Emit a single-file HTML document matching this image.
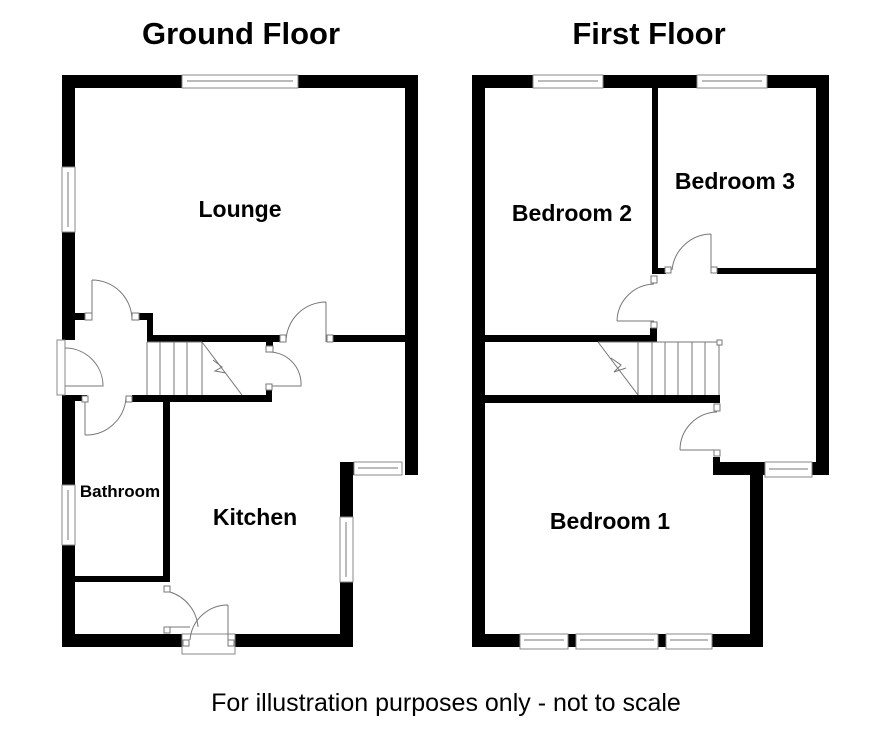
<!DOCTYPE html>
<html><head><style>
html,body{margin:0;padding:0;background:#fff;}
svg{display:block;}
text{font-family:"Liberation Sans",Arial,sans-serif;fill:#000;}
.b{font-weight:bold;}
.w{fill:#000;}
.win{fill:#fff;stroke:#888;stroke-width:1;}
.t{fill:none;stroke:#777;stroke-width:1;}
.j{fill:#fff;stroke:#777;stroke-width:1;}
</style></head><body>
<svg width="886" height="732" viewBox="0 0 886 732" xmlns="http://www.w3.org/2000/svg">
<text x="241" y="44" class="b" font-size="31" text-anchor="middle">Ground Floor</text>
<text x="649" y="44" class="b" font-size="31" text-anchor="middle">First Floor</text>
<text x="446" y="711" font-size="25" text-anchor="middle">For illustration purposes only - not to scale</text>

<!-- GROUND FLOOR walls -->
<g class="w">
<rect x="62" y="75" width="120" height="13"/>
<rect x="298" y="75" width="120" height="13"/>
<rect x="405" y="75" width="13" height="400"/>
<rect x="340" y="462" width="14" height="13"/>
<rect x="340" y="462" width="13" height="125"/>
<rect x="340" y="582" width="13" height="65"/>
<rect x="62" y="75" width="13" height="92"/>
<rect x="62" y="232" width="13" height="108"/>
<rect x="62" y="395" width="13" height="90"/>
<rect x="62" y="545" width="13" height="102"/>
<rect x="62" y="634" width="120" height="13"/>
<rect x="235" y="634" width="118" height="13"/>
<rect x="75" y="313" width="10" height="7"/>
<rect x="138" y="313" width="15" height="7"/>
<rect x="147" y="313" width="6" height="29"/>
<rect x="147" y="335" width="133" height="7"/>
<rect x="333" y="335" width="74" height="7"/>
<rect x="266" y="342" width="7" height="4"/>
<rect x="132" y="395" width="140" height="7"/>
<rect x="266" y="390" width="6" height="6"/>
<rect x="163" y="395" width="7" height="187"/>
<rect x="75" y="576" width="95" height="6"/>
<rect x="62" y="395" width="25" height="6"/>
</g>
<!-- ground windows -->
<rect x="182" y="75" width="116" height="13" class="win"/><line x1="187" y1="81" x2="293" y2="81" class="t"/>
<rect x="62" y="167" width="13" height="65" class="win"/><line x1="68" y1="172" x2="68" y2="227" class="t"/>
<rect x="62" y="485" width="13" height="60" class="win"/><line x1="68" y1="490" x2="68" y2="540" class="t"/>
<rect x="340" y="517" width="13" height="65" class="win"/><line x1="346" y1="522" x2="346" y2="577" class="t"/>
<rect x="354" y="462" width="48" height="13" class="win"/><line x1="358" y1="468" x2="398" y2="468" class="t"/>
<rect x="182" y="634" width="53" height="20" class="win"/>
<rect x="57" y="340" width="8" height="55" class="win"/>
<!-- ground doors -->
<path d="M92 280 L92 313 M92 280 A40 40 0 0 1 132 320" class="t"/>
<rect x="85" y="313" width="7" height="7" class="j"/><rect x="132" y="313" width="7" height="7" class="j"/>
<path d="M65 348 A38 38 0 0 1 103 386 L65 386" class="t"/>
<path d="M85 435 L85 400 M85 435 A40 40 0 0 0 126 398" class="t"/>
<rect x="126" y="396" width="6" height="6" class="j"/><rect x="82" y="396" width="6" height="6" class="j"/>
<path d="M326 302 L326 342 M326 302 A40 40 0 0 0 286 342" class="t"/>
<rect x="280" y="335" width="6" height="7" class="j"/><rect x="327" y="335" width="6" height="7" class="j"/>
<path d="M268 352 A32 32 0 0 1 301 386 L268 386" class="t"/>
<rect x="266" y="346" width="7" height="6" class="j"/><rect x="266" y="384" width="6" height="6" class="j"/>
<path d="M170 592 A40 40 0 0 1 198 627 M170 627 L190 627" class="t"/>
<rect x="164" y="586" width="6" height="6" class="j"/><rect x="164" y="627" width="6" height="6" class="j"/>
<path d="M228 605 L228 640 M228 605 A38 38 0 0 0 190 640" class="t"/>
<rect x="183" y="640" width="6" height="6" class="j"/><rect x="228" y="640" width="6" height="6" class="j"/>
<!-- ground stairs -->
<path d="M147 342 L202 342 M147 342 L147 395 M160 342 L160 395 M174 342 L174 395 M187 342 L187 395 M202 342 L202 395 M202 342 L242 395 M213 360 L222 367 L215 371 L226 373" class="t"/>

<!-- FIRST FLOOR walls -->
<g class="w">
<rect x="472" y="75" width="61" height="13"/>
<rect x="603" y="75" width="94" height="13"/>
<rect x="767" y="75" width="62" height="13"/>
<rect x="472" y="75" width="13" height="572"/>
<rect x="816" y="75" width="13" height="400"/>
<rect x="720" y="462" width="45" height="13"/>
<rect x="812" y="462" width="17" height="13"/>
<rect x="713" y="457" width="7" height="18"/>
<rect x="713" y="465" width="50" height="10"/>
<rect x="750" y="465" width="13" height="182"/>
<rect x="472" y="634" width="48" height="13"/>
<rect x="568" y="634" width="8" height="13"/>
<rect x="658" y="634" width="8" height="13"/>
<rect x="712" y="634" width="51" height="13"/>
<rect x="652" y="88" width="6" height="186"/>
<rect x="652" y="268" width="14" height="6"/>
<rect x="717" y="268" width="100" height="6"/>
<rect x="485" y="335" width="172" height="7"/>
<rect x="650" y="328" width="7" height="14"/>
<rect x="485" y="395" width="235" height="8"/>
</g>
<!-- first windows -->
<rect x="533" y="75" width="70" height="13" class="win"/><line x1="538" y1="81" x2="598" y2="81" class="t"/>
<rect x="697" y="75" width="70" height="13" class="win"/><line x1="702" y1="81" x2="762" y2="81" class="t"/>
<rect x="765" y="462" width="47" height="15" class="win"/><line x1="769" y1="469" x2="808" y2="469" class="t"/>
<rect x="520" y="634" width="48" height="15" class="win"/><line x1="524" y1="640" x2="564" y2="640" class="t"/>
<rect x="576" y="634" width="82" height="15" class="win"/><line x1="580" y1="640" x2="654" y2="640" class="t"/>
<rect x="666" y="634" width="46" height="15" class="win"/><line x1="670" y1="640" x2="708" y2="640" class="t"/>
<!-- first doors -->
<path d="M711 234 L711 268 M711 234 A40 40 0 0 0 672 270" class="t"/>
<rect x="665" y="267" width="6" height="6" class="j"/><rect x="711" y="267" width="6" height="6" class="j"/>
<path d="M617 321 L654 321 M617 321 A38 38 0 0 1 654 284" class="t"/>
<rect x="651" y="276" width="6" height="7" class="j"/><rect x="651" y="322" width="6" height="6" class="j"/>
<path d="M680 450 L717 450 M680 450 A38 38 0 0 1 717 412" class="t"/>
<rect x="714" y="404" width="6" height="7" class="j"/><rect x="714" y="450" width="6" height="6" class="j"/>
<!-- first stairs -->
<path d="M598 342 L720 342 M598 342 L638 395 M638 342 L638 395 M652 342 L652 395 M665 342 L665 395 M678 342 L678 395 M692 342 L692 395 M705 342 L705 395 M719 342 L719 395 M611 358 L621 365 L614 372 L626 368" class="t"/>
<rect x="717" y="340" width="5" height="5" class="j"/>

<!-- labels -->
<text x="240" y="217" class="b" font-size="23" text-anchor="middle">Lounge</text>
<text x="120" y="497" class="b" font-size="17" text-anchor="middle">Bathroom</text>
<text x="255" y="525" class="b" font-size="23" text-anchor="middle">Kitchen</text>
<text x="572" y="221" class="b" font-size="23" text-anchor="middle">Bedroom 2</text>
<text x="735" y="189" class="b" font-size="23" text-anchor="middle">Bedroom 3</text>
<text x="610" y="529" class="b" font-size="23" text-anchor="middle">Bedroom 1</text>
</svg>
</body></html>
